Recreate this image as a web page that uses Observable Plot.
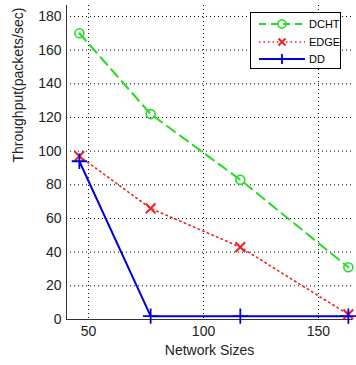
<!DOCTYPE html>
<html>
<head>
<meta charset="utf-8">
<script src="https://cdn.jsdelivr.net/npm/d3@7"></script>
<script src="https://cdn.jsdelivr.net/npm/@observablehq/plot@0.6"></script>
<style>
  html, body { margin: 0; padding: 0; background: #fff; }
  #wrap { position: relative; width: 356px; height: 365px; font-family: "Liberation Sans", Arial, sans-serif; }
  #legend { position: absolute; left: 250px; top: 12px; width: 91px; height: 57px; border: 1px solid #000; background: #fff; box-sizing: border-box; font-size: 11px; color: #000; }
  #legend .row { position: absolute; left: 0; height: 18px; display: flex; align-items: center; }
  #legend svg { display: block; }
</style>
</head>
<body>
<div id="wrap"></div>
<script>
const networkSizes = [46, 77, 116, 163];
const dcht = [170, 122, 83, 31];
const edge = [97, 66, 43, 3];
const dd = [94, 2, 2, 2];
const xTicks = [50, 100, 150];
const yTicks = [0, 20, 40, 60, 80, 100, 120, 140, 160, 180];

const seriesNames = ["DCHT", "EDGE", "DD"];
const seriesValues = [dcht, edge, dd];
const colors = { DCHT: "#22dd22", EDGE: "#ee2222", DD: "#0000dd" };

const rows = [];
seriesNames.forEach((s, i) => networkSizes.forEach((x, j) => rows.push({ series: s, x, y: seriesValues[i][j] })));
const sel = s => rows.filter(d => d.series === s);

const chart = Plot.plot({
  width: 356,
  height: 365,
  marginLeft: 66,
  marginRight: 4,
  marginTop: 5,
  marginBottom: 46,
  style: { fontFamily: "Liberation Sans, Arial, sans-serif", fontSize: "14px", color: "#222", background: "#fff" },
  x: { domain: [40.4, 164.8], ticks: xTicks },
  y: { domain: [0, 186.5], ticks: yTicks },
  marks: [
    Plot.gridX(xTicks, { stroke: "#000", strokeOpacity: 1, strokeDasharray: "1,3", strokeWidth: 1 }),
    Plot.gridY(yTicks, { stroke: "#000", strokeOpacity: 1, strokeDasharray: "1,3", strokeWidth: 1 }),
    Plot.axisX({ ticks: xTicks, tickSize: 0, tickPadding: 7, fontSize: 14, label: null }),
    Plot.axisY({ ticks: yTicks, tickSize: 0, tickPadding: 5, fontSize: 14, label: null }),
    Plot.text(["Network Sizes"], { frameAnchor: "bottom", dy: 35, fontSize: 14, fill: "#222" }),
    Plot.text(["Throughput(packets/sec)"], { frameAnchor: "left", dx: -48, rotate: -90, fontSize: 14, fill: "#222" }),
    Plot.ruleX([40.4], { stroke: "#333", strokeWidth: 1 }),
    Plot.ruleY([0], { stroke: "#333", strokeWidth: 1 }),
    Plot.line(sel("EDGE"), { x: "x", y: "y", stroke: colors.EDGE, strokeWidth: 1.6, strokeDasharray: "1.5,3.5" }),
    Plot.line(sel("DCHT"), { x: "x", y: "y", stroke: colors.DCHT, strokeWidth: 2, strokeDasharray: "10,6" }),
    Plot.line(sel("DD"), { x: "x", y: "y", stroke: colors.DD, strokeWidth: 2 }),
    Plot.dot(sel("DCHT"), { x: "x", y: "y", r: 4.5, stroke: colors.DCHT, strokeWidth: 1.6, fill: "none" }),
    Plot.dot(sel("EDGE"), { x: "x", y: "y", r: 4.5, symbol: "times", stroke: colors.EDGE, strokeWidth: 2 }),
    Plot.dot(sel("DD"), { x: "x", y: "y", r: 5, symbol: "plus", stroke: colors.DD, strokeWidth: 1.8 })
  ]
});

const wrap = document.getElementById("wrap");
wrap.appendChild(chart);

// legend overlay
const legend = document.createElement("div");
legend.id = "legend";
const legendItems = [
  { name: "DCHT", dash: "7,5", marker: "circle", width: 2 },
  { name: "EDGE", dash: "1.5,3", marker: "times", width: 1.4 },
  { name: "DD", dash: null, marker: "plus", width: 2 }
];
legendItems.forEach((it, i) => {
  const row = document.createElement("div");
  row.className = "row";
  row.style.top = (2 + i * 17.5) + "px";
  const c = colors[it.name];
  let marker = "";
  if (it.marker === "circle") marker = `<circle cx="31" cy="9" r="4" fill="none" stroke="${c}" stroke-width="1.6"/>`;
  if (it.marker === "times") marker = `<path d="M27.5,5.5L34.5,12.5M34.5,5.5L27.5,12.5" stroke="${c}" stroke-width="2"/>`;
  if (it.marker === "plus") marker = `<path d="M31,4V14M26,9H36" stroke="${c}" stroke-width="1.8"/>`;
  row.innerHTML = `<svg width="58" height="18"><line x1="8" y1="9" x2="54" y2="9" stroke="${c}" stroke-width="${it.width}" ${it.dash ? `stroke-dasharray="${it.dash}"` : ""}/>${marker}</svg><span>${it.name}</span>`;
  legend.appendChild(row);
});
wrap.appendChild(legend);
</script>
</body>
</html>
